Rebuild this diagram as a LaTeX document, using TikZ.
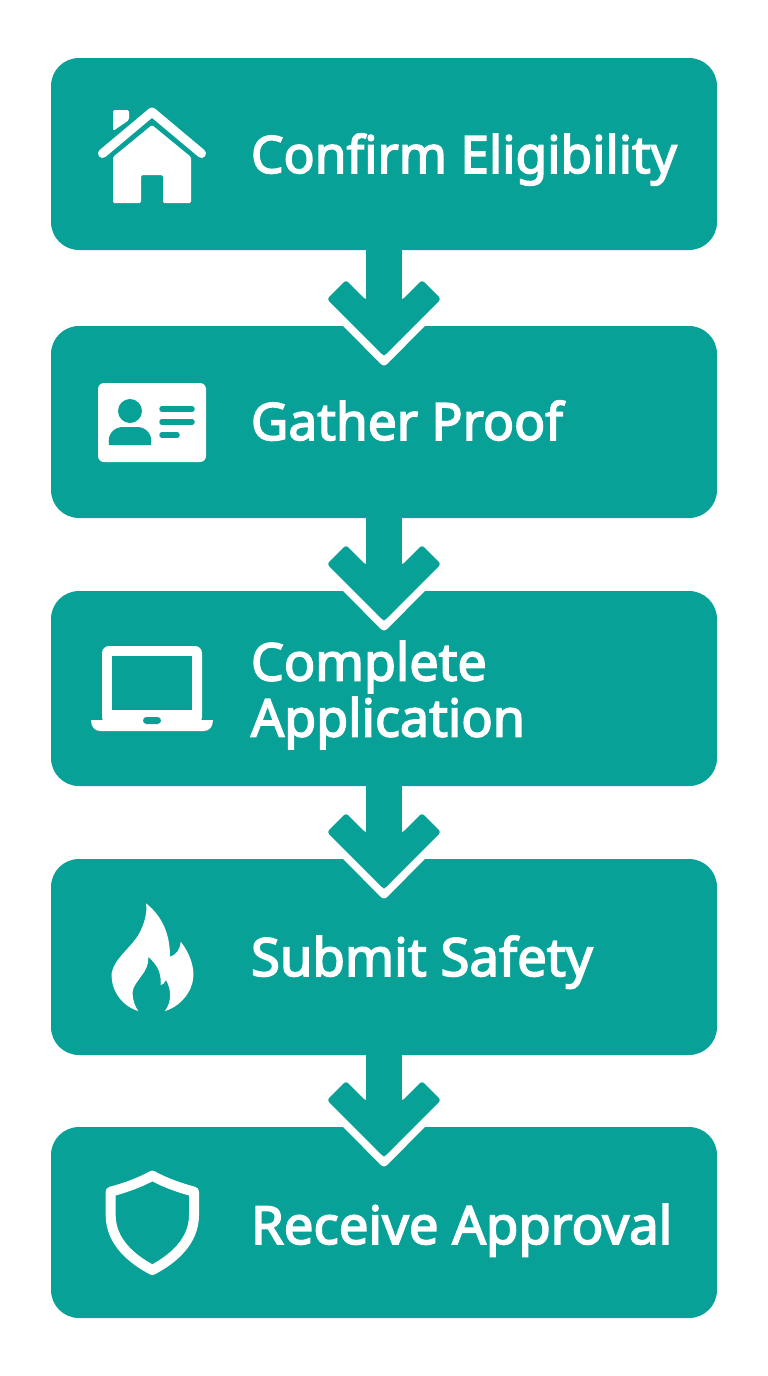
\documentclass[tikz,border=0pt]{standalone}
\usepackage{fontspec}
\setmainfont{Noto Sans}
\newfontfamily\labfont[FakeBold=3]{Noto Sans}
\definecolor{teal1}{HTML}{08A197}
\tikzset{
  stepbox/.style={fill=teal1,rounded corners=28pt,minimum width=666pt,inner sep=0pt,outer sep=0pt},
  label1/.style={text=white,inner sep=0pt,outer sep=0pt,font=\fontsize{#1}{56}\labfont,align=left},
  label1/.default=51.5,
  link/.style={draw=teal1,line width=36pt},
  halo/.style={draw=white,line width=8pt,line join=round,line cap=butt},
  headshape/.style={fill=teal1,rounded corners=3pt},
  iconfill/.style={fill=white,draw=none},
  iconline/.style={draw=white,line join=round},
  cut/.style={draw=teal1,line width=5.5pt,line cap=round}
}
\begin{document}
\begin{tikzpicture}[x=1pt,y=-1pt]
\useasboundingbox (0,0) rectangle (768,1376);
\fill[white] (0,0) rectangle (768,1376);
\node[stepbox,minimum height=192pt] (b1) at (384,154) {};
\node[stepbox,minimum height=192pt] (b2) at (384,422) {};
\node[stepbox,minimum height=195pt] (b3) at (384,688.5) {};
\node[stepbox,minimum height=196pt] (b4) at (384,957) {};
\node[stepbox,minimum height=191pt] (b5) at (384,1222.5) {};
\draw[link] (b1.south) -- (b2.north);
\draw[link] (b2.south) -- (b3.north);
\draw[link] (b3.south) -- (b4.north);
\draw[link] (b4.south) -- (b5.north);
\foreach \n in {b2,b3,b4,b5}{
  \begin{scope}[shift={(\n.north)}]
    \draw[halo] (-56,-21) -- (0,35.5) -- (56,-21);
    \fill[headshape] (-18,-26) -- (-38,-46) -- (-57,-27) -- (0,30) -- (57,-27) -- (38,-46) -- (18,-26) -- cycle;
  \end{scope}
}
\node[label1,anchor=base west] (t1) at (251,173) {Confirm Eligibility};
\node[label1,anchor=base west] (t2) at (251,440) {Gather Proof};
\node[label1=52,anchor=west] (t3) at (251,695) {Complete\\Application};
\node[label1=52.7,anchor=base west] (t4) at (251,976) {Submit Safety};
\node[label1=52.7,anchor=base west] (t5) at (251,1244) {Receive Approval};
% house
\draw[iconline,line width=9pt,line cap=round] (102.5,153.5) -- (152,112) -- (201.5,153.5);
\fill[iconfill,rounded corners=1.5pt] (113,110) -- (129,110) -- (129,120) -- (113,131) -- cycle;
\fill[iconfill,rounded corners=1.5pt] (113,157) -- (152,125) -- (191,157) -- (191,203) -- (163,203) -- (163,175) -- (141,175) -- (141,203) -- (113,203) -- cycle;
% id card
\fill[iconfill,rounded corners=6pt] (98,383) rectangle (206,462);
\fill[teal1] (130,411) circle (12);
\fill[teal1] (109,445) .. controls (107,433) and (115,427) .. (123,427) -- (137,427) .. controls (145,427) and (153,433) .. (151,445) -- cycle;
\draw[cut] (162,409) -- (192,409);
\draw[cut] (162,422) -- (192,422);
\draw[cut] (162,435) -- (177,435);
% laptop
\fill[iconfill,rounded corners=7pt] (102,724) -- (102,646) -- (202,646) -- (202,724) -- cycle;
\fill[teal1] (112,656) rectangle (192,710);
\fill[iconfill] (91,720) -- (213,720) .. controls (213,727) and (209,731) .. (204,731) -- (100,731) .. controls (95,731) and (91,727) .. (91,720) -- cycle;
\fill[teal1,rounded corners=3.5pt] (143,717) rectangle (161,724);
% flame
\begin{scope}[shift={(90,895)},scale=1/3]
\fill[iconfill] (168,25) .. controls (225,70) and (240,130) .. (240,185)
  .. controls (258,180) and (270,165) .. (272,140)
  .. controls (300,175) and (312,215) .. (310,245)
  .. controls (308,290) and (270,335) .. (225,348)
  .. controls (245,320) and (245,285) .. (228,255)
  .. controls (222,265) and (218,270) .. (212,270)
  .. controls (215,225) and (195,205) .. (175,185)
  .. controls (180,230) and (130,260) .. (128,290)
  .. controls (127,315) and (135,335) .. (145,348)
  .. controls (100,335) and (62,290) .. (65,235)
  .. controls (70,195) and (120,160) .. (145,120)
  .. controls (165,85) and (172,50) .. (168,25) -- cycle;
\end{scope}
% shield
\begin{scope}[shift={(90,1160)},scale=1/3]
\draw[iconline,line width=10pt] (187,47) .. controls (145,70) and (100,85) .. (62,95)
  -- (62,165) .. controls (62,245) and (125,297) .. (187,330)
  .. controls (249,297) and (312,245) .. (312,165)
  -- (312,95) .. controls (274,85) and (229,70) .. (187,47) -- cycle;
\end{scope}
\end{tikzpicture}
\end{document}
